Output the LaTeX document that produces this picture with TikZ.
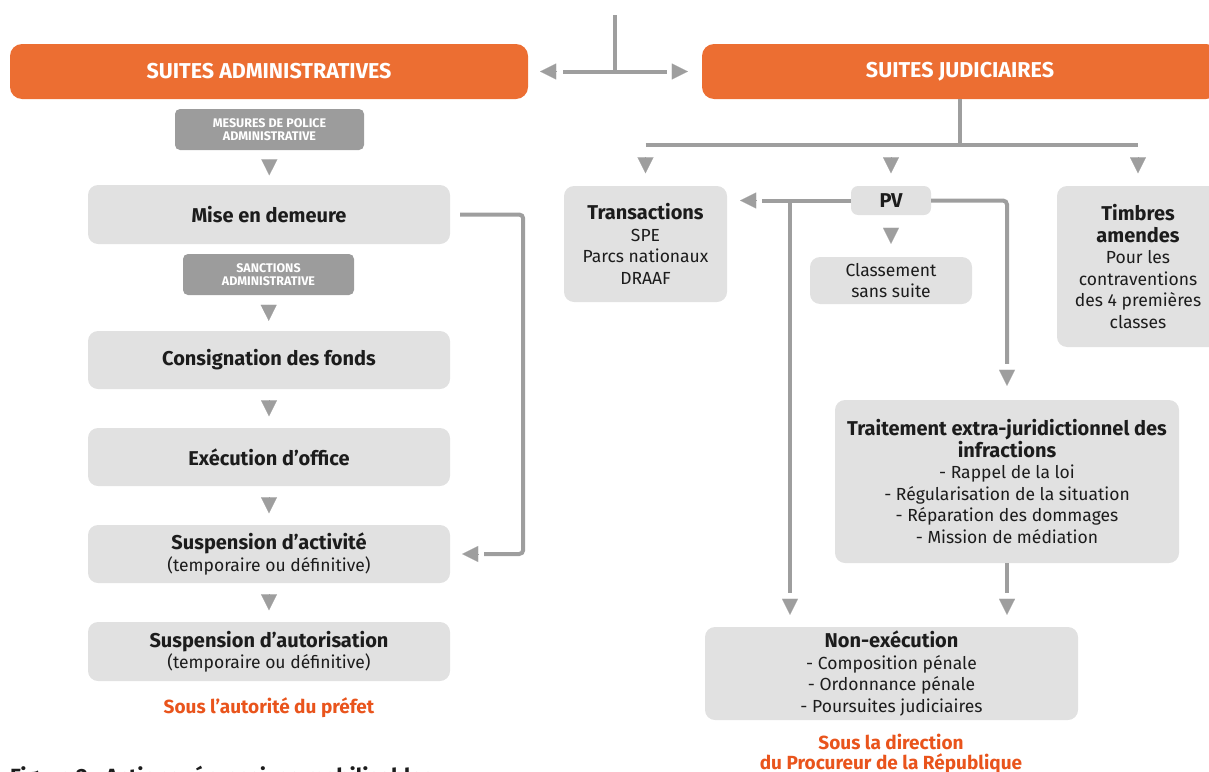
\documentclass[tikz,border=0pt]{standalone}
\usepackage{fontspec}
\setmainfont{Fira Sans}
\usetikzlibrary{arrows.meta}
\definecolor{suiteorange}{RGB}{236,110,50}
\definecolor{noteorange}{RGB}{233,84,28}
\definecolor{boxgray}{RGB}{225,225,225}
\definecolor{taggray}{RGB}{156,156,156}
\definecolor{linegray}{RGB}{158,158,158}
\definecolor{ink}{RGB}{28,28,28}
\newcommand{\boxtitle}[1]{{\fontsize{20}{24}\selectfont\bfseries #1}}
\begin{document}
\begin{tikzpicture}[x=1pt, y=-1pt,
    head/.style={fill=suiteorange, rounded corners=12pt, minimum height=55pt, text=white, font=\fontsize{21.5}{24}\selectfont\bfseries},
    tag/.style={fill=taggray, rounded corners=5pt, minimum height=41pt, inner sep=0pt, text=white, align=center, font=\fontsize{12.5}{13}\selectfont\bfseries},
    etape/.style={fill=boxgray, rounded corners=10pt, inner sep=0pt, align=center, text=ink, font=\fontsize{17.5}{21.5}\selectfont},
    note/.style={text=noteorange, align=center, inner sep=0pt, font=\fontsize{19}{20}\selectfont\bfseries},
    conn/.style={draw=linegray, line width=4pt},
    headonly/.style 2 args={draw=linegray, fill=linegray, line width=0.1pt, -{Triangle[length=16pt, width=16pt]}, shorten <=#1, shorten >=#2},
    tri/.style={headonly={#1}{#1}}]
    \useasboundingbox (0,0) rectangle (1209,771);
    \clip (0,0) rectangle (1209,771);
    % en-tetes
    \node[head, minimum width=518pt] (admin) at (269,71.5) {SUITES ADMINISTRATIVES};
    \node[head, minimum width=516pt] (judic) at (960,71.5) {SUITES JUDICIAIRES};
    \draw[conn] (615,15) -- (615,71.5);
    \draw[conn, shorten <=35pt, shorten >=35pt] (admin.east) -- (judic.west);
    \draw[headonly={146pt}{12pt}] (judic.west) -- (admin.east);
    \draw[headonly={144pt}{14pt}] (admin.east) -- (judic.west);
    % suites administratives
    \node[tag, minimum width=189pt] (mesures) at (269.5,129.5) {MESURES DE POLICE\\ADMINISTRATIVE};
    \node[etape, minimum width=362pt, minimum height=59pt] (mise) at (269,214.5) {\boxtitle{Mise en demeure}};
    \node[tag, minimum width=171pt] (sanctions) at (268.5,274.5) {SANCTIONS\\ADMINISTRATIVE};
    \node[etape, minimum width=362pt, minimum height=58pt] (consig) at (269,360) {\boxtitle{Consignation des fonds}};
    \node[etape, minimum width=362pt, minimum height=58pt] (exec) at (269,457) {\boxtitle{Exécution d’office}};
    \node[etape, minimum width=362pt, minimum height=58pt] (susact) at (269,554) {\boxtitle{Suspension d’activité}\\(temporaire ou définitive)};
    \node[etape, minimum width=362pt, minimum height=59pt] (susaut) at (269,651.5) {\boxtitle{Suspension d’autorisation}\\(temporaire ou définitive)};
    \node[note, anchor=base] (prefet) at (269,713) {Sous l’autorité du préfet};
    \draw[tri=9.5pt] (mesures) -- (mise);
    \draw[tri=10pt] (sanctions) -- (consig);
    \draw[tri=11.5pt] (consig) -- (exec);
    \draw[tri=11.5pt] (exec) -- (susact);
    \draw[tri=11.5pt] (susact) -- (susaut);
    \draw[conn, rounded corners=4pt, shorten <=10pt, shorten >=34pt] (mise.east) -- ++(73,0) coordinate (loop) |- (susact.east);
    \draw[headonly={45pt}{12pt}] (loop |- susact.east) -- (susact.east);
    % suites judiciaires
    \node[etape, minimum width=163pt, minimum height=116pt] (trans) at (645.5,244) {\boxtitle{Transactions}\\SPE\\Parcs nationaux\\DRAAF};
    \node[etape, minimum width=80pt, minimum height=29pt, rounded corners=7pt] (pv) at (891,200.5) {\boxtitle{PV}};
    \node[etape, minimum width=162pt, minimum height=47pt] (classement) at (891,280.5) {Classement\\sans suite};
    \node[etape, minimum width=162pt, minimum height=161pt] (timbres) at (1138,266.5) {\boxtitle{Timbres}\\\boxtitle{amendes}\\Pour les\\contraventions\\des 4 premières\\classes};
    \node[etape, minimum width=344pt, minimum height=163pt] (traitement) at (1007,481.5) {\boxtitle{Traitement extra-juridictionnel des}\\\boxtitle{infractions}\\- Rappel de la loi\\- Régularisation de la situation\\- Réparation des dommages\\- Mission de médiation};
    \node[etape, minimum width=373pt, minimum height=93pt] (nonexec) at (891.5,673.5) {\boxtitle{Non-exécution}\\- Composition pénale\\- Ordonnance pénale\\- Poursuites judiciaires};
    \node[note, anchor=north] (procureur) at (891,734) {Sous la direction\\du Procureur de la République};
    \draw[conn] (judic.south) -- ++(0,46) coordinate (fork);
    \draw[conn] (fork -| trans) -- (fork -| timbres);
    \draw[tri=12.5pt] (fork -| trans) -- (trans.north);
    \draw[tri=12.5pt] (fork -| pv) -- (pv.north);
    \draw[tri=12.5pt] (fork -| timbres) -- (timbres.north);
    \draw[tri=13pt] (pv) -- (classement);
    \coordinate (branch) at (790,200.5);
    \draw[conn, shorten >=35pt] (pv.west) -- (pv.west -| trans.east);
    \draw[headonly={95pt}{13pt}] (pv.west) -- (pv.west -| trans.east);
    \draw[conn, shorten >=34pt] (branch) -- (branch |- nonexec.north);
    \draw[headonly={398.5pt}{12pt}] (branch) -- (branch |- nonexec.north);
    \draw[conn, rounded corners=4pt, shorten >=36pt] (pv.east) -| (traitement.north);
    \draw[headonly={169.5pt}{14pt}] (pv.east -| traitement.north) -- (traitement.north);
    \draw[conn, shorten >=34pt] (traitement.south) -- (traitement.south |- nonexec.north);
    \draw[headonly={36pt}{12pt}] (traitement.south) -- (traitement.south |- nonexec.north);
    \node[anchor=base west, inner sep=0pt, text=ink, font=\fontsize{22}{24}\selectfont\bfseries] (caption) at (10,784) {Figure 2 : Actions répressives mobilisables};
\end{tikzpicture}
\end{document}
